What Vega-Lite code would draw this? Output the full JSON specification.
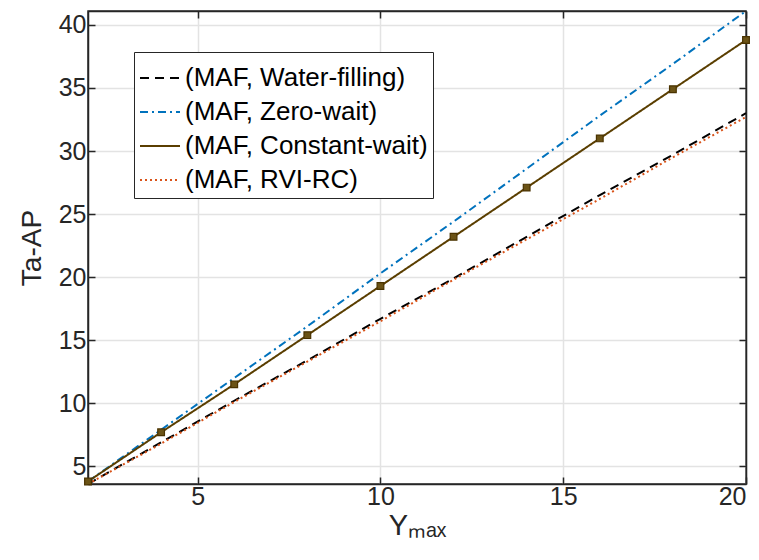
{
  "$schema": "https://vega.github.io/schema/vega-lite/v6.json",
  "autosize": "none",
  "width": 658,
  "height": 473,
  "padding": {"left": 88, "top": 11, "right": 13, "bottom": 76},
  "background": "white",
  "config": {
    "font": "Liberation Sans",
    "view": {"stroke": "#262626", "strokeWidth": 1.5}
  },
  "data": {"values": [
    {"x": 2, "y": 3.6, "s": "(MAF, Water-filling)"},
    {"x": 4, "y": 6.9, "s": "(MAF, Water-filling)"},
    {"x": 6, "y": 10.2, "s": "(MAF, Water-filling)"},
    {"x": 8, "y": 13.4, "s": "(MAF, Water-filling)"},
    {"x": 10, "y": 16.7, "s": "(MAF, Water-filling)"},
    {"x": 12, "y": 19.9, "s": "(MAF, Water-filling)"},
    {"x": 14, "y": 23.2, "s": "(MAF, Water-filling)"},
    {"x": 16, "y": 26.5, "s": "(MAF, Water-filling)"},
    {"x": 18, "y": 29.7, "s": "(MAF, Water-filling)"},
    {"x": 20, "y": 33.0, "s": "(MAF, Water-filling)"},
    {"x": 2, "y": 3.8, "s": "(MAF, Zero-wait)"},
    {"x": 4, "y": 7.9, "s": "(MAF, Zero-wait)"},
    {"x": 6, "y": 12.0, "s": "(MAF, Zero-wait)"},
    {"x": 8, "y": 16.1, "s": "(MAF, Zero-wait)"},
    {"x": 10, "y": 20.3, "s": "(MAF, Zero-wait)"},
    {"x": 12, "y": 24.4, "s": "(MAF, Zero-wait)"},
    {"x": 14, "y": 28.6, "s": "(MAF, Zero-wait)"},
    {"x": 16, "y": 32.8, "s": "(MAF, Zero-wait)"},
    {"x": 18, "y": 36.9, "s": "(MAF, Zero-wait)"},
    {"x": 20, "y": 41.1, "s": "(MAF, Zero-wait)"},
    {"x": 2, "y": 3.8, "s": "(MAF, Constant-wait)"},
    {"x": 4, "y": 7.7, "s": "(MAF, Constant-wait)"},
    {"x": 6, "y": 11.5, "s": "(MAF, Constant-wait)"},
    {"x": 8, "y": 15.4, "s": "(MAF, Constant-wait)"},
    {"x": 10, "y": 19.3, "s": "(MAF, Constant-wait)"},
    {"x": 12, "y": 23.2, "s": "(MAF, Constant-wait)"},
    {"x": 14, "y": 27.1, "s": "(MAF, Constant-wait)"},
    {"x": 16, "y": 31.0, "s": "(MAF, Constant-wait)"},
    {"x": 18, "y": 34.9, "s": "(MAF, Constant-wait)"},
    {"x": 20, "y": 38.8, "s": "(MAF, Constant-wait)"},
    {"x": 2, "y": 3.6, "s": "(MAF, RVI-RC)"},
    {"x": 4, "y": 6.8, "s": "(MAF, RVI-RC)"},
    {"x": 6, "y": 10.1, "s": "(MAF, RVI-RC)"},
    {"x": 8, "y": 13.3, "s": "(MAF, RVI-RC)"},
    {"x": 10, "y": 16.5, "s": "(MAF, RVI-RC)"},
    {"x": 12, "y": 19.8, "s": "(MAF, RVI-RC)"},
    {"x": 14, "y": 23.0, "s": "(MAF, RVI-RC)"},
    {"x": 16, "y": 26.2, "s": "(MAF, RVI-RC)"},
    {"x": 18, "y": 29.5, "s": "(MAF, RVI-RC)"},
    {"x": 20, "y": 32.7, "s": "(MAF, RVI-RC)"}
  ]},
  "layer": [
    {
      "mark": {"type": "line", "strokeWidth": 2, "clip": true},
      "encoding": {
        "x": {"field": "x", "type": "quantitative",
          "scale": {"domain": [2, 20], "nice": false, "zero": false},
          "axis": {"values": [5, 10, 15, 20], "title": "Yₘₐₓ", "titleFontSize": 29, "titleFontWeight": "normal", "titleColor": "#262626", "titlePadding": 2,
            "labelFontSize": 25, "labelColor": "#262626", "labelPadding": 7, "tickSize": -7, "tickColor": "#262626", "tickWidth": 1.5,
            "domainColor": "#262626", "domainWidth": 1.5, "grid": true, "gridColor": "#e3e3e3", "gridWidth": 1.5}},
        "y": {"field": "y", "type": "quantitative",
          "scale": {"domain": [3.6, 41.1], "nice": false, "zero": false},
          "axis": {"values": [5, 10, 15, 20, 25, 30, 35, 40], "title": "Ta-AP", "titleFontSize": 28, "titleFontWeight": "normal", "titleColor": "#262626", "titlePadding": 12,
            "labelFontSize": 25, "labelColor": "#262626", "labelPadding": 9, "tickSize": -7, "tickColor": "#262626", "tickWidth": 1.5,
            "domainColor": "#262626", "domainWidth": 1.5, "grid": true, "gridColor": "#e3e3e3", "gridWidth": 1.5}},
        "color": {"field": "s", "type": "nominal",
          "scale": {"domain": ["(MAF, Water-filling)", "(MAF, Zero-wait)", "(MAF, Constant-wait)", "(MAF, RVI-RC)"],
                    "range": ["#000000", "#0072BD", "#5A3E00", "#D95319"]},
          "legend": {"title": null, "orient": "none", "legendX": 46, "legendY": 41,
            "labelFontSize": 26, "labelColor": "#000000", "symbolType": "stroke", "symbolSize": 1600, "symbolStrokeWidth": 2,
            "rowPadding": -9, "padding": 5, "strokeColor": "#262626", "fillColor": "white", "labelOffset": 4, "labelLimit": 400}},
        "strokeDash": {"field": "s", "type": "nominal",
          "scale": {"domain": ["(MAF, Water-filling)", "(MAF, Zero-wait)", "(MAF, Constant-wait)", "(MAF, RVI-RC)"],
                    "range": [[9, 6], [8, 4, 2, 4], [1, 0], [2, 3]]},
          "legend": null},
        "order": {"field": "x", "type": "quantitative"}
      }
    },
    {
      "transform": [{"filter": "datum.s === '(MAF, Constant-wait)'"}],
      "mark": {"type": "square", "size": 45, "filled": true, "fill": "#6B5316", "stroke": "#4A3300", "strokeWidth": 1.2, "opacity": 1, "clip": false},
      "encoding": {
        "x": {"field": "x", "type": "quantitative", "axis": null},
        "y": {"field": "y", "type": "quantitative", "axis": null}
      }
    },
    {
      "mark": {"type": "rule", "opacity": 0},
      "encoding": {
        "x": {"field": "x", "type": "quantitative",
          "axis": {"orient": "top", "values": [5, 10, 15, 20], "labels": false, "title": null, "grid": false, "tickSize": -7, "tickColor": "#262626", "tickWidth": 1.5, "domainColor": "#262626", "domainWidth": 1.5}},
        "y": {"field": "y", "type": "quantitative",
          "axis": {"orient": "right", "values": [5, 10, 15, 20, 25, 30, 35, 40], "labels": false, "title": null, "grid": false, "tickSize": -7, "tickColor": "#262626", "tickWidth": 1.5, "domainColor": "#262626", "domainWidth": 1.5}}
      }
    }
  ],
  "resolve": {"axis": {"x": "independent", "y": "independent"}}
}
